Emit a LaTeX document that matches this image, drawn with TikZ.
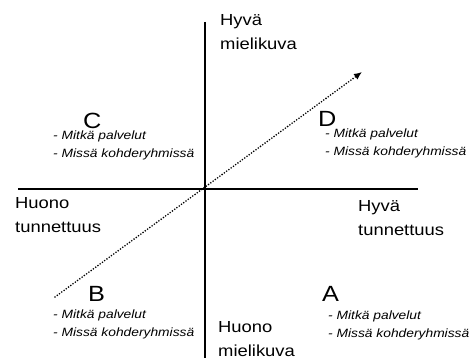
\documentclass[tikz,border=0pt]{standalone}
\usepackage{fontspec}
\setmainfont{Liberation Sans}[FakeStretch=1.15]
\usetikzlibrary{arrows.meta}
\begin{document}
\begin{tikzpicture}[x=1pt,y=-1pt,
  axis/.style={line width=1.8pt},
  trend/.style={line width=1.8pt, line cap=round, dash pattern=on 0pt off 2.8pt,
    -{Latex[length=8pt,width=7pt]}},
  axislabel/.style={font=\fontsize{16}{24}\selectfont, align=left, inner sep=0pt, anchor=base west},
  quadletter/.style={font=\fontsize{22}{22}\selectfont, inner sep=0pt, anchor=base west},
  note/.style={font=\fontsize{12}{18}\selectfont\itshape, align=left, inner sep=0pt, anchor=base west}]
  \useasboundingbox (0,0) rectangle (476,358);

  % axes
  \coordinate (vtop) at (205,22);
  \coordinate (vbot) at (205,358);
  \coordinate (hleft) at (18,189);
  \coordinate (hright) at (418,189);
  \draw[axis] (vtop) -- (vbot);
  \draw[axis] (hleft) -- (hright);

  % diagonal development arrow
  \coordinate (dstart) at (55,297);
  \coordinate (dend) at (362,72);
  \draw[trend] (dstart) -- (dend);

  % axis labels (anchored at the baseline of the last line)
  \node[axislabel] (goodimg) at (220,50) {Hyvä\\mielikuva};
  \node[axislabel] (badimg) at (218,356) {Huono\\mielikuva};
  \node[axislabel] (badaw) at (15,232) {Huono\\tunnettuus};
  \node[axislabel] (goodaw) at (358,235) {Hyvä\\tunnettuus};

  % quadrants
  \node[quadletter] (qc) at (83,128.5) {C};
  \node[quadletter] (qd) at (318,126.5) {D};
  \node[quadletter] (qb) at (88,301) {B};
  \node[quadletter] (qa) at (322,301) {A};

  \node[note] (nc) at (53,158) {- Mitkä palvelut\\- Missä kohderyhmissä};
  \node[note] (nd) at (325,156) {- Mitkä palvelut\\- Missä kohderyhmissä};
  \node[note] (nb) at (53,336) {- Mitkä palvelut\\- Missä kohderyhmissä};
  \node[note] (na) at (328,337) {- Mitkä palvelut\\- Missä kohderyhmissä};
\end{tikzpicture}
\end{document}
